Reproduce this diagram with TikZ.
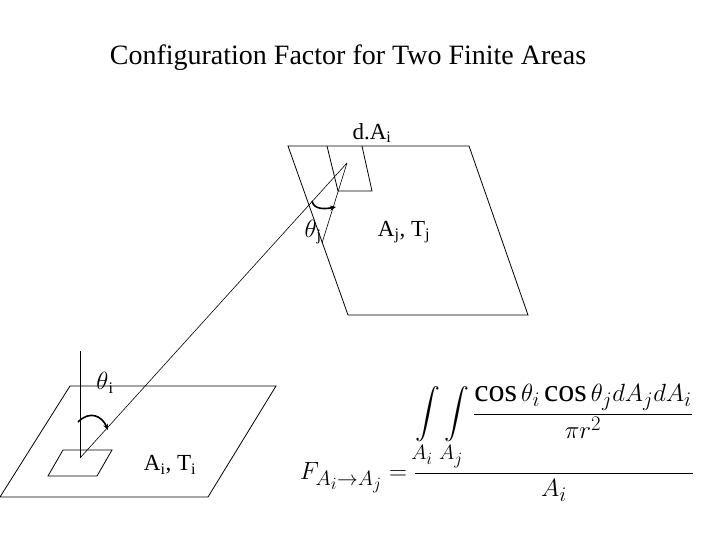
\documentclass[tikz,border=0pt]{standalone}
\usepackage{amsmath}
\usepackage{fontspec}
\setmainfont{Liberation Serif}
\newfontfamily\cosfont{Liberation Serif}
\usetikzlibrary{arrows.meta}
\newcommand{\mycos}{\mbox{\cosfont cos}\,}
\begin{document}
\begin{tikzpicture}[x=1pt,y=-1pt,
  ln/.style={line width=0.8pt},
  thin1/.style={line width=0.6pt},
  arr/.style={line width=1.6pt,-{Stealth[length=6pt,width=5pt]}},
  lbl/.style={font=\fontsize{23}{25}\selectfont,inner sep=0pt}]
\useasboundingbox (0,0) rectangle (720,540);
\node[font=\fontsize{28}{30}\selectfont] (title) at (348,58) {Configuration Factor for Two Finite Areas};
% upper plane
\coordinate (u1) at (288,146); \coordinate (u2) at (469,146);
\coordinate (u3) at (528,315); \coordinate (u4) at (348,315);
\draw[ln] (u1) -- (u2) -- (u3) -- (u4) -- cycle;
\coordinate (d1) at (327,146); \coordinate (d2) at (362,146);
\coordinate (d3) at (372,191); \coordinate (d4) at (338,191);
\draw[ln] (d1) -- (d4) -- (d3) -- (d2);
\coordinate (apex) at (347,163); \coordinate (nj) at (322,243);
\draw[thin1] (apex) -- (nj);
% lower plane
\coordinate (l1) at (70,386); \coordinate (l2) at (276,386);
\coordinate (l3) at (208,497); \coordinate (l4) at (0,497);
\draw[ln] (l1) -- (l2) -- (l3) -- (l4) -- cycle;
\coordinate (s1) at (63,450); \coordinate (s2) at (112,450);
\coordinate (s3) at (97,476); \coordinate (s4) at (48,476);
\draw[ln] (s1) -- (s2) -- (s3) -- (s4) -- cycle;
\coordinate (base) at (80,458); \coordinate (ni) at (80,351);
\draw[thin1] (base) -- (ni);
\draw[thin1] (base) -- (apex);
% angle arrows
\coordinate (ai1) at (78,422); \coordinate (ai2) at (108,430);
\draw[arr] (ai1) .. controls (90,410) and (102,416) .. (ai2);
\coordinate (aj1) at (312,201); \coordinate (aj2) at (336,207);
\draw[arr] (aj1) .. controls (314,210) and (325,209) .. (aj2);
% labels
\node[lbl] (dAi) at (372,133) {d.A\textsubscript{i}};
\node[lbl] (thj) at (313,232) {$\theta$\textsubscript{j}};
\node[lbl] (AjTj) at (404,232) {A\textsubscript{j}, T\textsubscript{j}};
\node[lbl] (thi) at (105,383) {$\theta$\textsubscript{i}};
\node[lbl] (AiTi) at (170,465) {A\textsubscript{i}, T\textsubscript{i}};
\node[font=\fontsize{32}{36}\selectfont,inner sep=0pt] (eq) at (497,443)
 {$\displaystyle F_{A_i\to A_j}=\frac{\displaystyle\int\limits_{A_i}\int\limits_{A_j}\frac{\mycos\theta_i\,\mycos\theta_j dA_j dA_i}{\pi r^2}}{A_i}$};
\end{tikzpicture}
\end{document}
